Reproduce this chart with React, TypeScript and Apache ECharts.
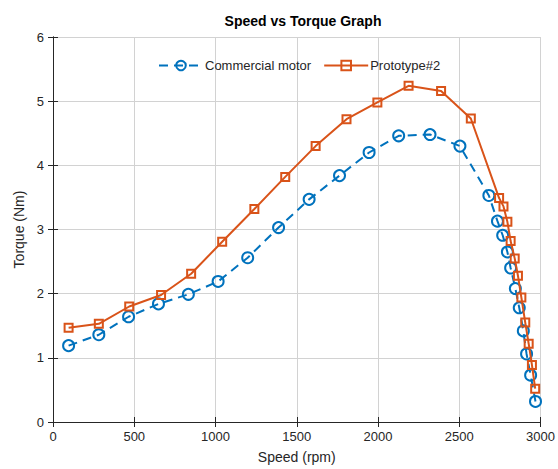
import React, { useEffect, useRef } from "react";
import * as echarts from "echarts";

const commercialSpeed = [96, 282, 465, 649, 833, 1016, 1198, 1388, 1576, 1763, 1945, 2127, 2320, 2504, 2682, 2735, 2767, 2796, 2816, 2845, 2869, 2894, 2914, 2939, 2969];
const commercialTorque = [1.19, 1.36, 1.64, 1.84, 1.99, 2.19, 2.56, 3.03, 3.47, 3.84, 4.2, 4.46, 4.48, 4.3, 3.53, 3.13, 2.91, 2.65, 2.4, 2.08, 1.78, 1.42, 1.06, 0.73, 0.32];
const protoSpeed = [96, 282, 469, 665, 850, 1041, 1239, 1429, 1616, 1806, 1996, 2188, 2388, 2571, 2745, 2772, 2796, 2816, 2841, 2861, 2882, 2906, 2927, 2947, 2967];
const protoTorque = [1.47, 1.53, 1.8, 1.98, 2.31, 2.81, 3.32, 3.82, 4.3, 4.72, 4.98, 5.24, 5.16, 4.73, 3.49, 3.36, 3.12, 2.82, 2.55, 2.28, 1.94, 1.55, 1.22, 0.89, 0.52];
const seriesNames = ["Commercial motor", "Prototype#2"];
const title = "Speed vs Torque Graph";
const xName = "Speed (rpm)";
const yName = "Torque (Nm)";

const BLUE = "#0072BD";
const ORANGE = "#D95319";
const FONT = "Liberation Sans, Arial, Helvetica, sans-serif";
const AX = "#262626";

export default function App() {
  const ref = useRef<HTMLDivElement>(null);
  useEffect(() => {
    if (!ref.current) return;
    const chart = echarts.init(ref.current, undefined, { renderer: "svg" });
    const gridLine = { show: true, lineStyle: { color: "#d2d2d2", width: 1, type: "solid" } };
    chart.setOption({
      animation: false,
      backgroundColor: "#ffffff",
      textStyle: { fontFamily: FONT },
      title: {
        text: title,
        left: 298,
        textAlign: "center",
        top: 9,
        textStyle: { fontFamily: FONT, fontSize: 14, fontWeight: "bold", color: "#000" },
      },
      legend: {
        left: 153,
        top: 54,
        itemWidth: 44,
        itemHeight: 12,
        itemGap: 12,
        textStyle: { fontFamily: FONT, fontSize: 13, color: AX, padding: [0, 0, 0, -3] },
        data: seriesNames,
      },
      grid: {
        left: 53,
        right: 15,
        top: 37,
        bottom: 47,
        show: false,
      },
      xAxis: [
        {
          type: "value",
          min: 0,
          max: 3000,
          interval: 500,
          name: xName,
          nameLocation: "middle",
          nameGap: 28,
          nameTextStyle: { fontFamily: FONT, fontSize: 14, color: AX },
          axisLine: { show: true, lineStyle: { color: AX } },
          axisTick: { show: true, inside: true, length: 5, lineStyle: { color: AX } },
          axisLabel: { fontFamily: FONT, fontSize: 13, color: AX, margin: 8, formatter: (v: number) => String(v) },
          splitLine: gridLine,
        },
        {
          type: "value",
          position: "top",
          min: 0,
          max: 3000,
          interval: 500,
          axisLine: { show: true, lineStyle: { color: AX } },
          axisTick: { show: true, inside: true, length: 5, lineStyle: { color: AX } },
          axisLabel: { show: false },
          splitLine: { show: false },
        },
      ],
      yAxis: [
        {
          type: "value",
          min: 0,
          max: 6,
          interval: 1,
          name: yName,
          nameLocation: "middle",
          nameGap: 23,
          nameTextStyle: { fontFamily: FONT, fontSize: 14, color: AX },
          axisLine: { show: true, lineStyle: { color: AX } },
          axisTick: { show: true, inside: true, length: 5, lineStyle: { color: AX } },
          axisLabel: { fontFamily: FONT, fontSize: 13, color: AX, margin: 9 },
          splitLine: gridLine,
        },
        {
          type: "value",
          position: "right",
          min: 0,
          max: 6,
          interval: 1,
          axisLine: { show: true, lineStyle: { color: AX } },
          axisTick: { show: true, inside: true, length: 5, lineStyle: { color: AX } },
          axisLabel: { show: false },
          splitLine: { show: false },
        },
      ],
      series: [
        {
          name: seriesNames[0],
          type: "line",
          data: commercialSpeed.map((s, i) => [s, commercialTorque[i]]),
          symbol: "circle",
          symbolSize: 11,
          lineStyle: { color: BLUE, width: 2, type: [9, 6] },
          itemStyle: { color: "rgba(255,255,255,0)", borderColor: BLUE, borderWidth: 2 },
          emphasis: { disabled: true },
          z: 2,
        },
        {
          name: seriesNames[1],
          type: "line",
          data: protoSpeed.map((s, i) => [s, protoTorque[i]]),
          symbol: "rect",
          symbolSize: 8,
          lineStyle: { color: ORANGE, width: 2 },
          itemStyle: { color: "rgba(255,255,255,0)", borderColor: ORANGE, borderWidth: 2 },
          emphasis: { disabled: true },
          z: 3,
        },
      ],
    });
    return () => chart.dispose();
  }, []);
  return <div ref={ref} style={{ width: 558, height: 469, position: "absolute", left: 0, top: 0 }} />;
}
